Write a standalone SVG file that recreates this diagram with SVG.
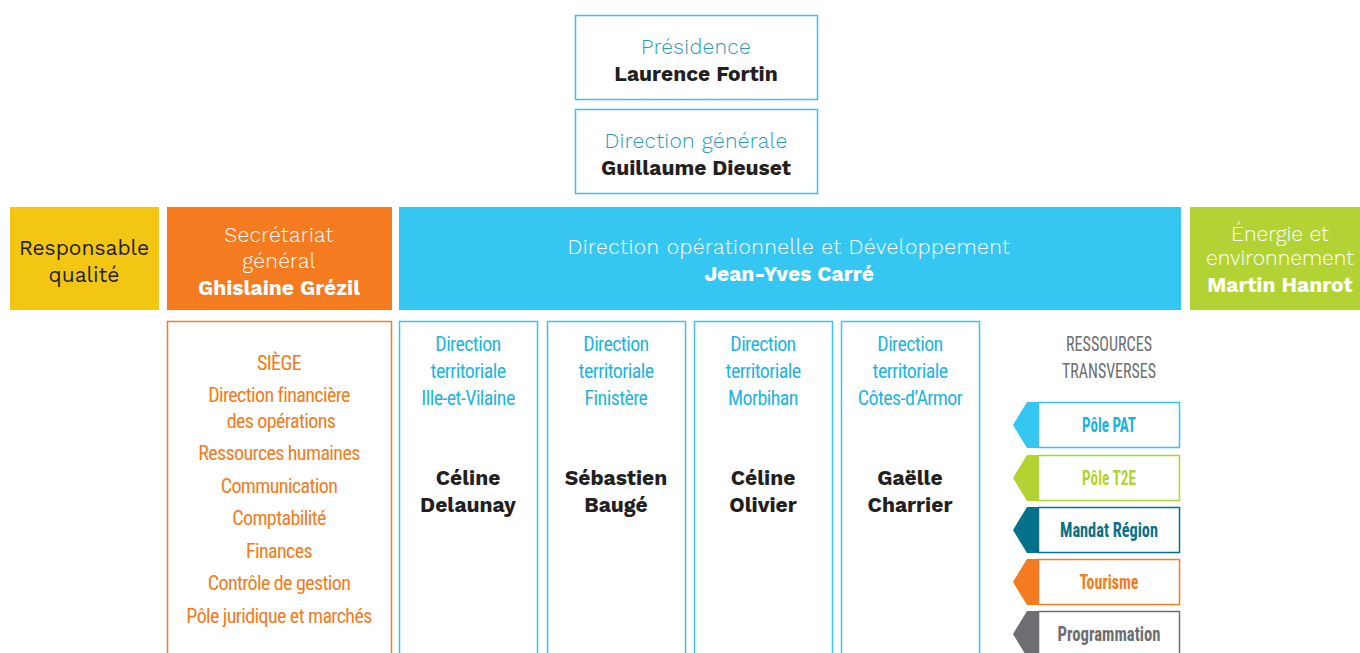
<svg xmlns="http://www.w3.org/2000/svg" width="1360" height="653" viewBox="0 0 1360 653">
<style>
.box{fill:#fff;stroke:#3ac3ef;stroke-width:1.5}
.sans{font-family:"Work Sans","Noto Sans","Open Sans",sans-serif;text-anchor:middle;font-size:21px}
.lt{font-weight:300;letter-spacing:0.3px}
.bd{font-weight:700}
.cond{font-family:"Roboto Condensed","Liberation Sans Narrow","Noto Sans",sans-serif;text-anchor:middle;font-size:20px}
.dt{fill:#1fb5e0;letter-spacing:-0.6px}
.sg{fill:#f47b20;letter-spacing:-0.6px}
.nm{fill:#231f20;font-weight:700}
.tag{font-weight:700;font-size:20px}
</style>
<rect width="1360" height="653" fill="#fff"/>
<g id="presidence">
<rect class="box" x="575.5" y="15.5" width="242" height="84"/>
<text class="sans lt" x="696" y="54" fill="#2a9bb3">Présidence</text>
<text class="sans bd" x="696" y="81" fill="#231f20">Laurence Fortin</text>
</g>
<g id="direction-generale">
<rect class="box" x="575.5" y="109.5" width="242" height="84"/>
<text class="sans lt" x="696" y="148" fill="#2a9bb3">Direction générale</text>
<text class="sans bd" x="696" y="175" fill="#231f20">Guillaume Dieuset</text>
</g>
<g id="responsable-qualite">
<rect x="10" y="207" width="149" height="103" fill="#f3c614"/>
<text class="sans" x="84" y="255" fill="#231f20">Responsable</text>
<text class="sans" x="84" y="282" fill="#231f20">qualité</text>
</g>
<g id="secretariat">
<rect x="167" y="207" width="225" height="103" fill="#f47b20"/>
<text class="sans lt" x="279" y="242" fill="#fff">Secrétariat</text>
<text class="sans lt" x="279" y="268" fill="#fff">général</text>
<text class="sans bd" x="279" y="295" fill="#fff">Ghislaine Grézil</text>
</g>
<g id="direction-operationnelle">
<rect x="399" y="207" width="782" height="103" fill="#36c6f2"/>
<text class="sans lt" x="789" y="254" fill="#fff" style="letter-spacing:0.5px">Direction opérationnelle et Développement</text>
<text class="sans bd" x="789" y="281" fill="#fff">Jean-Yves Carré</text>
</g>
<g id="energie">
<rect x="1190" y="207" width="170" height="103" fill="#b3d334"/>
<text class="sans lt" x="1280" y="241" fill="#fff" style="letter-spacing:0">Énergie et</text>
<text class="sans lt" x="1280" y="265" fill="#fff" style="letter-spacing:0" font-size="20.5">environnement</text>
<text class="sans bd" x="1280" y="292" fill="#fff" font-size="20.5">Martin Hanrot</text>
</g>
<g id="siege">
<rect x="167.5" y="321.5" width="224" height="340" fill="#fff" stroke="#f47b20" stroke-width="1.5"/>
<text class="cond sg" x="279" y="370">SIÈGE</text>
<text class="cond sg" x="279" y="402">Direction financière</text>
<text class="cond sg" x="281" y="428">des opérations</text>
<text class="cond sg" x="279" y="460">Ressources humaines</text>
<text class="cond sg" x="279" y="493">Communication</text>
<text class="cond sg" x="279" y="525">Comptabilité</text>
<text class="cond sg" x="279" y="558">Finances</text>
<text class="cond sg" x="279" y="590">Contrôle de gestion</text>
<text class="cond sg" x="279" y="623">Pôle juridique et marchés</text>
</g>
<g id="dt-ille-et-vilaine">
<rect class="box" x="399.5" y="321.5" width="138" height="340"/>
<text class="cond dt" x="468" y="351">Direction</text>
<text class="cond dt" x="468" y="378">territoriale</text>
<text class="cond dt" x="468" y="405">Ille-et-Vilaine</text>
<text class="sans nm" x="468" y="485">Céline</text>
<text class="sans nm" x="468" y="512">Delaunay</text>
</g>
<g id="dt-finistere">
<rect class="box" x="547.5" y="321.5" width="138" height="340"/>
<text class="cond dt" x="616" y="351">Direction</text>
<text class="cond dt" x="616" y="378">territoriale</text>
<text class="cond dt" x="616" y="405">Finistère</text>
<text class="sans nm" x="616" y="485">Sébastien</text>
<text class="sans nm" x="616" y="512">Baugé</text>
</g>
<g id="dt-morbihan">
<rect class="box" x="694.5" y="321.5" width="138" height="340"/>
<text class="cond dt" x="763" y="351">Direction</text>
<text class="cond dt" x="763" y="378">territoriale</text>
<text class="cond dt" x="763" y="405">Morbihan</text>
<text class="sans nm" x="763" y="485">Céline</text>
<text class="sans nm" x="763" y="512">Olivier</text>
</g>
<g id="dt-cotes-d-armor">
<rect class="box" x="841.5" y="321.5" width="138" height="340"/>
<text class="cond dt" x="910" y="351">Direction</text>
<text class="cond dt" x="910" y="378">territoriale</text>
<text class="cond dt" x="910" y="405">Côtes-d’Armor</text>
<text class="sans nm" x="910" y="485">Gaëlle</text>
<text class="sans nm" x="910" y="512">Charrier</text>
</g>
<g id="ressources-transverses">
<text class="cond" x="1109" y="351" fill="#6d6e71" textLength="86" lengthAdjust="spacingAndGlyphs">RESSOURCES</text>
<text class="cond" x="1109" y="378" fill="#6d6e71" textLength="94" lengthAdjust="spacingAndGlyphs">TRANSVERSES</text>
</g>
<g id="pole-pat">
<rect x="1038.5" y="402.5" width="141" height="45" fill="#fff" stroke="#36c6f2" stroke-width="1.5"/>
<polygon points="1027,402 1039,402 1039,448 1027,448 1013,425" fill="#36c6f2"/>
<text class="cond tag" x="1109" y="432" fill="#1cb4df" textLength="54" lengthAdjust="spacingAndGlyphs">Pôle PAT</text>
</g>
<g id="pole-t2e">
<rect x="1038.5" y="455.5" width="141" height="45" fill="#fff" stroke="#b3d334" stroke-width="1.5"/>
<polygon points="1027,455 1039,455 1039,501 1027,501 1013,478" fill="#b3d334"/>
<text class="cond tag" x="1109" y="485" fill="#b3d334" textLength="54" lengthAdjust="spacingAndGlyphs">Pôle T2E</text>
</g>
<g id="mandat-region">
<rect x="1038.5" y="507.5" width="141" height="45" fill="#fff" stroke="#05718a" stroke-width="1.5"/>
<polygon points="1027,507 1039,507 1039,553 1027,553 1013,530" fill="#05718a"/>
<text class="cond tag" x="1109" y="537" fill="#05718a" textLength="98" lengthAdjust="spacingAndGlyphs">Mandat Région</text>
</g>
<g id="tourisme">
<rect x="1038.5" y="559.5" width="141" height="45" fill="#fff" stroke="#f47b20" stroke-width="1.5"/>
<polygon points="1027,559 1039,559 1039,605 1027,605 1013,582" fill="#f47b20"/>
<text class="cond tag" x="1109" y="589" fill="#f47b20" textLength="59" lengthAdjust="spacingAndGlyphs">Tourisme</text>
</g>
<g id="programmation">
<rect x="1038.5" y="611.5" width="141" height="45" fill="#fff" stroke="#6d6e71" stroke-width="1.5"/>
<polygon points="1027,611 1039,611 1039,657 1027,657 1013,634" fill="#6d6e71"/>
<text class="cond tag" x="1109" y="641" fill="#6d6e71" textLength="103" lengthAdjust="spacingAndGlyphs">Programmation</text>
</g>
<g id="connectors"></g>
</svg>
